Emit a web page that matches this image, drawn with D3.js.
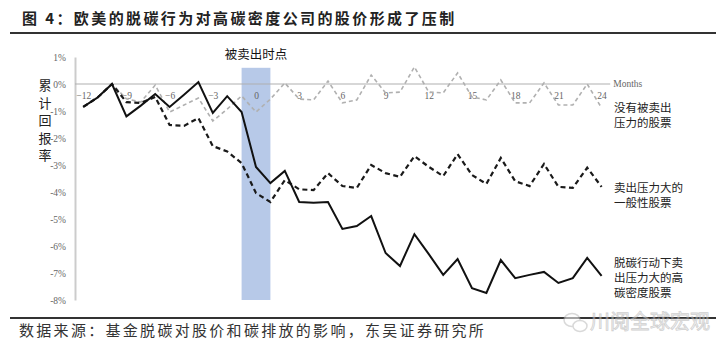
<!DOCTYPE html>
<html>
<head>
<meta charset="utf-8">
<script src="https://cdn.jsdelivr.net/npm/d3@7"></script>
<style>
  body { margin: 0; background: #fff; }
  svg { display: block; }
  .cjk { font-family: "Noto Sans CJK SC", sans-serif; }
  .tick text { font-family: "Liberation Serif", serif; font-size: 9.5px; fill: #666; }
</style>
</head>
<body>
<svg width="726" height="357"></svg>
<script>
// months relative to the sell-off point
const months = [-12,-11,-10,-9,-8,-7,-6,-5,-4,-3,-2,-1,0,1,2,3,4,5,6,7,8,9,10,11,12,13,14,15,16,17,18,19,20,21,22,23,24];
const xTicks = [-12,-9,-6,-3,0,3,6,9,12,15,18,21,24];
const yTicks = [1,0,-1,-2,-3,-4,-5,-6,-7,-8];

// cumulative return, %
const noSell = [-0.85,-0.5,0,-0.55,-0.67,-0.04,-1.04,-0.78,-0.52,-1.37,-0.93,-0.44,
  -1.04,-0.56,0.04,-0.56,-0.59,0.11,-0.7,-0.59,0.33,-0.33,-0.3,0.63,-0.3,-0.33,0.41,-0.48,-0.59,0.15,-0.7,-0.7,0.04,-0.78,-0.78,0.0,-0.89];
const generalSell = [-0.85,-0.5,0,-0.67,-0.7,-0.48,-1.52,-1.55,-1.26,-2.3,-2.5,-2.93,
  -4.04,-4.37,-3.56,-3.9,-3.93,-3.3,-3.78,-3.85,-3.0,-3.3,-3.44,-2.67,-3.07,-3.41,-2.6,-3.37,-3.7,-2.74,-3.6,-3.78,-2.96,-3.81,-3.85,-3.1,-3.81];
const highCarbon = [-0.85,-0.5,0,-1.2,-0.8,-0.37,-0.85,-0.4,0.07,-1.07,-0.45,-1.04,
  -3.07,-3.67,-3.22,-4.37,-4.4,-4.37,-5.37,-5.26,-4.89,-6.26,-6.74,-5.56,-6.3,-7.07,-6.48,-7.56,-7.74,-6.52,-7.19,-7.07,-6.96,-7.37,-7.19,-6.44,-7.11];

const seriesLabels = [
  ["没有被卖出", "压力的股票"],
  ["卖出压力大的", "一般性股票"],
  ["脱碳行动下卖", "出压力大的高", "碳密度股票"]
];

const svg = d3.select('svg');

const x = d3.scaleLinear().domain([-12, 24]).range([83.2, 601.6]);
const y = d3.scaleLinear().domain([1, -8]).range([57, 300]);

// title + rules
svg.append('text').attr('class', 'cjk')
  .attr('x', 22).attr('y', 24)
  .attr('font-size', 15).attr('font-weight', 'bold')
  .attr('letter-spacing', 2.4).attr('fill', '#222')
  .text('图 4：欧美的脱碳行为对高碳密度公司的股价形成了压制');
svg.append('line').attr('x1', 10).attr('x2', 716).attr('y1', 33).attr('y2', 33)
  .attr('stroke', '#333').attr('stroke-width', 2);

// sell-off band
svg.append('rect')
  .attr('x', x(-1)).attr('width', x(1) - x(-1))
  .attr('y', y(0.6)).attr('height', y(-8) - y(0.6))
  .attr('fill', '#b7c9e8');
svg.append('text').attr('class', 'cjk')
  .attr('x', x(0)).attr('y', 59).attr('text-anchor', 'middle')
  .attr('font-size', 12.5).attr('fill', '#111')
  .text('被卖出时点');

// y axis
const yAxis = svg.append('g')
  .attr('transform', 'translate(75,0)')
  .call(d3.axisLeft(y).tickValues(yTicks).tickSize(0).tickSizeOuter(0).tickPadding(9)
    .tickFormat(d => d + '%'));
yAxis.select('.domain').attr('stroke', '#ccc').attr('stroke-width', 2);

// y axis title, stacked characters
svg.append('text').attr('class', 'cjk')
  .attr('font-size', 13).attr('fill', '#222').attr('text-anchor', 'middle')
  .selectAll('tspan').data('累计回报率'.split(''))
  .enter().append('tspan')
  .attr('x', 45).attr('y', (d, i) => 90 + i * 17.5)
  .text(d => d);

// zero line + month ticks
svg.append('line')
  .attr('x1', 75).attr('x2', x(24.6))
  .attr('y1', y(0)).attr('y2', y(0))
  .attr('stroke', '#b0b0b0').attr('stroke-width', 1.2);
const xAxis = svg.append('g')
  .attr('transform', `translate(0,${y(0)})`)
  .call(d3.axisBottom(x).tickValues(xTicks).tickSize(0).tickPadding(8));
xAxis.select('.domain').remove();
svg.append('text')
  .attr('x', x(24.6) + 3).attr('y', y(0) + 3)
  .attr('font-family', 'Liberation Serif, serif').attr('font-size', 9.5).attr('fill', '#666')
  .text('Months');

// lines
const line = d3.line().x((d, i) => x(months[i])).y(d => y(d));

svg.append('path').datum(noSell)
  .attr('d', line).attr('fill', 'none')
  .attr('stroke', '#b0b0b0').attr('stroke-width', 1.6).attr('stroke-dasharray', '4,3');
svg.append('path').datum(generalSell)
  .attr('d', line).attr('fill', 'none')
  .attr('stroke', '#1a1a1a').attr('stroke-width', 2.2).attr('stroke-dasharray', '5,3.5');
svg.append('path').datum(highCarbon)
  .attr('d', line).attr('fill', 'none')
  .attr('stroke', '#111').attr('stroke-width', 2);

// series labels on the right
const labelTop = [108, 188, 263];
seriesLabels.forEach((lines, k) => {
  svg.append('text').attr('class', 'cjk')
    .attr('font-size', 11.5).attr('fill', '#222')
    .selectAll('tspan').data(lines)
    .enter().append('tspan')
    .attr('x', 614).attr('y', (d, i) => labelTop[k] + 4 + i * 15)
    .text(d => d);
});

// source + watermark
svg.append('line').attr('x1', 10).attr('x2', 716).attr('y1', 318).attr('y2', 318)
  .attr('stroke', '#333').attr('stroke-width', 2);
svg.append('text').attr('class', 'cjk')
  .attr('x', 19).attr('y', 336)
  .attr('font-size', 15).attr('letter-spacing', 2.3).attr('fill', '#333')
  .text('数据来源：基金脱碳对股价和碳排放的影响，东吴证券研究所');

const wm = svg.append('g').attr('opacity', 0.55);
wm.append('ellipse').attr('cx', 572).attr('cy', 320).attr('rx', 8).attr('ry', 6.5)
  .attr('fill', '#fff').attr('stroke', '#bbb').attr('stroke-width', 1.5);
wm.append('ellipse').attr('cx', 580).attr('cy', 326).attr('rx', 7).attr('ry', 5.5)
  .attr('fill', '#fff').attr('stroke', '#bbb').attr('stroke-width', 1.5);
wm.append('text').attr('class', 'cjk')
  .attr('x', 590).attr('y', 329)
  .attr('font-size', 20).attr('fill', '#eee').attr('stroke', '#aaa').attr('stroke-width', 0.8)
  .text('川阅全球宏观');
</script>
</body>
</html>
